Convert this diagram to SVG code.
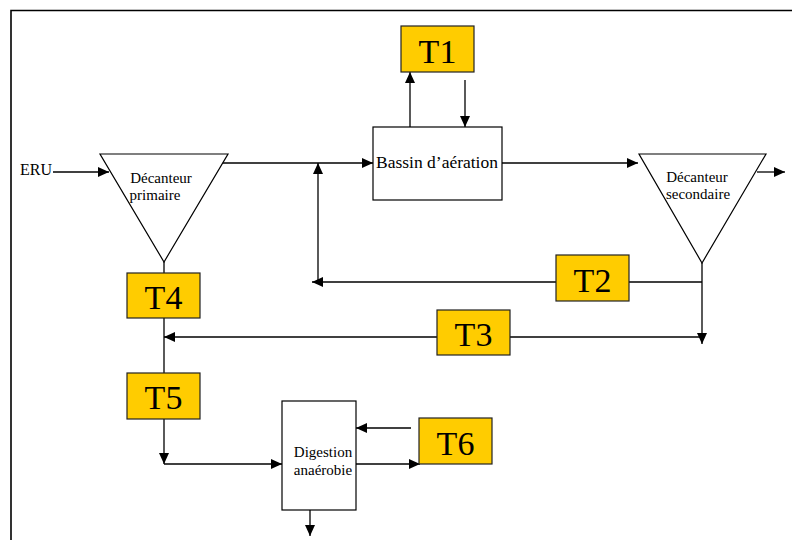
<svg xmlns="http://www.w3.org/2000/svg" width="792" height="540" viewBox="0 0 792 540">
  <style>
    .frame { stroke: #000; stroke-width: 1.6; fill: none; }
    .box { fill: #fff; stroke: #000; stroke-width: 1.2; }
    .tag { fill: #ffcc00; stroke: #222; stroke-width: 1.2; }
    .tri { fill: #fff; stroke: #000; stroke-width: 1.2; }
    .wire { stroke: #000; stroke-width: 1.3; fill: none; }
    .arr { marker-end: url(#head); }
    text { font-family: "Liberation Serif", "Times New Roman", serif; fill: #000; }
    .lbl { font-size: 15px; text-anchor: middle; }
    .big { font-size: 34px; text-anchor: middle; }
  </style>
  <defs>
    <marker id="head" markerUnits="userSpaceOnUse" markerWidth="12" markerHeight="12" viewBox="0 0 12 12" refX="11" refY="6" orient="auto">
      <path d="M0,1 L11,6 L0,11 Z" fill="#000"/>
    </marker>
  </defs>

  <rect width="792" height="540" fill="#fff"/>
  <!-- page frame -->
  <path class="frame" d="M11,540 L11,10.5 L792,10.5"/>

  <!-- connectors -->
  <g id="connectors">
    <line class="wire arr" x1="53" y1="172" x2="109" y2="172"/>
    <line class="wire arr" x1="220" y1="163" x2="373" y2="163"/>
    <line class="wire arr" x1="410" y1="127" x2="410" y2="72"/>
    <line class="wire arr" x1="465" y1="80" x2="465" y2="127"/>
    <line class="wire arr" x1="502" y1="163" x2="638" y2="163"/>
    <line class="wire arr" x1="757" y1="172" x2="785" y2="172"/>
    <line class="wire arr" x1="702" y1="263" x2="702" y2="344"/>
    <line class="wire arr" x1="702" y1="282" x2="312" y2="282"/>
    <line class="wire arr" x1="318" y1="282" x2="318" y2="163"/>
    <line class="wire arr" x1="702" y1="337" x2="164" y2="337"/>
    <line class="wire" x1="164" y1="262" x2="164" y2="273"/>
    <line class="wire" x1="164" y1="318" x2="164" y2="373"/>
    <line class="wire arr" x1="164" y1="419" x2="164" y2="464"/>
    <line class="wire arr" x1="164" y1="464" x2="282" y2="464"/>
    <line class="wire arr" x1="411" y1="428" x2="356" y2="428"/>
    <line class="wire arr" x1="356" y1="464" x2="420" y2="464"/>
    <line class="wire arr" x1="310" y1="510" x2="310" y2="536"/>
  </g>

  <g id="eru">
    <text x="20" y="175" font-size="16">ERU</text>
  </g>

  <g id="decanteur-primaire">
    <polygon class="tri" points="100,154 228,154 164,262"/>
    <text x="161" y="183" class="lbl">Décanteur</text>
    <text x="155" y="200" class="lbl">primaire</text>
  </g>

  <g id="bassin">
    <rect class="box" x="373" y="127" width="129" height="73"/>
    <text x="437" y="168" font-size="17.5" text-anchor="middle">Bassin d’aération</text>
  </g>

  <g id="decanteur-secondaire">
    <polygon class="tri" points="639,154 766,154 702,263"/>
    <text x="697" y="182" class="lbl">Décanteur</text>
    <text x="698" y="199" class="lbl">secondaire</text>
  </g>

  <g id="digestion">
    <rect class="box" x="282" y="401" width="74" height="109"/>
    <text x="323" y="457" class="lbl">Digestion</text>
    <text x="323" y="475" class="lbl">anaérobie</text>
  </g>

  <g id="t1">
    <rect class="tag" x="401" y="26" width="73" height="46"/>
    <text x="437.5" y="63" class="big">T1</text>
  </g>
  <g id="t2">
    <rect class="tag" x="556" y="255" width="73" height="46"/>
    <text x="592.5" y="292" class="big">T2</text>
  </g>
  <g id="t3">
    <rect class="tag" x="437" y="310" width="73" height="45"/>
    <text x="473.5" y="346" class="big">T3</text>
  </g>
  <g id="t4">
    <rect class="tag" x="127" y="273" width="73" height="45"/>
    <text x="163.5" y="309" class="big">T4</text>
  </g>
  <g id="t5">
    <rect class="tag" x="127" y="373" width="73" height="46"/>
    <text x="163.5" y="409" class="big">T5</text>
  </g>
  <g id="t6">
    <rect class="tag" x="419" y="418" width="73" height="46"/>
    <text x="455.5" y="455" class="big">T6</text>
  </g>
</svg>
